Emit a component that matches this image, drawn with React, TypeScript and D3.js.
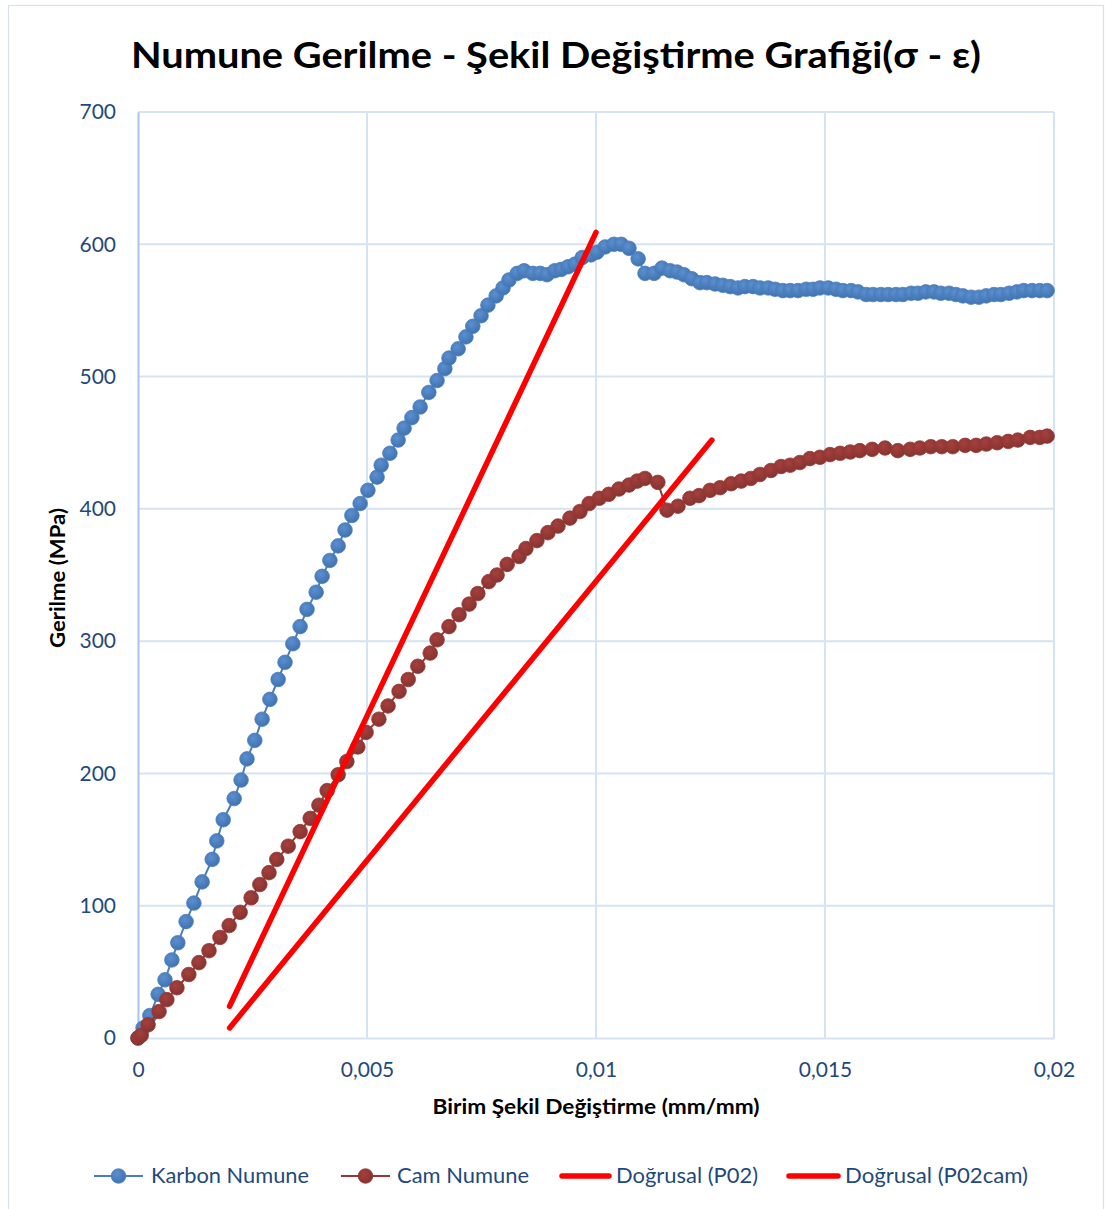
import React, { useEffect, useRef } from 'react';
import * as d3 from 'd3';

// Karbon Numune: [strain, stress]
const karbonStrain = [
  0, 0.00011, 0.00026, 0.00044, 0.00059, 0.00074, 0.00087, 0.00105, 0.00122, 0.0014, 0.00162, 0.00172,
  0.00186, 0.0021, 0.00225, 0.00238, 0.00255, 0.00271, 0.00288, 0.00306, 0.00321, 0.00338, 0.00354,
  0.00369, 0.00389, 0.00402, 0.00419, 0.00437, 0.00452, 0.00467, 0.00485, 0.00502, 0.00522, 0.00531,
  0.0055, 0.00568, 0.00581, 0.00598, 0.00616, 0.00635, 0.00653, 0.0067, 0.00679, 0.00699, 0.00716,
  0.00731, 0.00749, 0.00764, 0.00782, 0.00797, 0.0081, 0.00828, 0.00843, 0.00862, 0.00878, 0.00893,
  0.0091, 0.00924, 0.00939, 0.00954, 0.0097, 0.00989, 0.01002, 0.0102, 0.01039, 0.01055, 0.01072,
  0.01092, 0.01107, 0.01127, 0.01144, 0.01162, 0.01177, 0.01192, 0.01209, 0.01227, 0.01242, 0.0126,
  0.01277, 0.01293, 0.0131, 0.01325, 0.01343, 0.01358, 0.01376, 0.01391, 0.01408, 0.01424, 0.01441,
  0.01459, 0.01474, 0.01489, 0.01507, 0.01524, 0.01539, 0.01557, 0.01572, 0.0159, 0.01605, 0.01622,
  0.01638, 0.01655, 0.0167, 0.01688, 0.01703, 0.0172, 0.01738, 0.01753, 0.01771, 0.01786, 0.01801,
  0.01819, 0.01836, 0.01852, 0.01869, 0.01884, 0.01902, 0.01919, 0.01934, 0.01952, 0.01969, 0.01985
];
const karbonStress = [
  0, 7.6, 17, 33, 44, 59, 72, 88, 102, 118, 135, 149,
  165, 181, 195, 211, 225, 241, 256, 271, 284, 298, 311,
  324, 337, 349, 361, 372, 384, 395, 404, 414, 424, 433,
  442, 452, 461, 469, 477, 488, 497, 506, 514, 521, 530,
  538, 546, 554, 561, 567, 573, 578, 580, 578, 578, 577,
  580, 581, 583, 585, 590, 592, 594, 598, 600, 600, 597,
  589, 578, 578, 582, 580, 579, 577, 574, 571, 571, 570,
  569, 568, 567, 568, 568, 567, 567, 566, 565, 565, 565,
  566, 566, 567, 567, 566, 565, 565, 564, 562, 562, 562,
  562, 562, 562, 563, 563, 564, 564, 563, 563, 562, 561,
  560, 560, 561, 562, 562, 563, 564, 565, 565, 565, 565
];

// Cam Numune: [strain, stress]
const camStrain = [
  0, 0.00007, 0.00022, 0.00046, 0.00063, 0.00085, 0.00111, 0.00133, 0.00155, 0.00179, 0.00199,
  0.00223, 0.00247, 0.00266, 0.00286, 0.00303, 0.00328, 0.00354, 0.00376, 0.00395, 0.00413, 0.00437,
  0.00456, 0.0048, 0.00498, 0.00526, 0.00546, 0.0057, 0.0059, 0.00611, 0.00638, 0.00653, 0.00679,
  0.00701, 0.00723, 0.00742, 0.00766, 0.00784, 0.00806, 0.00832, 0.00847, 0.00871, 0.00895, 0.00917,
  0.00943, 0.00965, 0.00985, 0.01007, 0.01028, 0.0105, 0.01072, 0.0109, 0.01107, 0.01135, 0.01155,
  0.01179, 0.01205, 0.01225, 0.01249, 0.01271, 0.01295, 0.01317, 0.01338, 0.01358, 0.01382, 0.01404,
  0.01424, 0.01445, 0.01467, 0.01489, 0.01511, 0.01533, 0.01555, 0.01576, 0.01603, 0.01631, 0.01659,
  0.01686, 0.01707, 0.01731, 0.01755, 0.01779, 0.01806, 0.0183, 0.01852, 0.01876, 0.019, 0.01921,
  0.01948, 0.01969, 0.01985
];
const camStress = [
  0, 2, 10, 20, 29, 38, 48, 57, 66, 76, 85,
  95, 106, 116, 125, 135, 145, 156, 166, 176, 187, 199,
  209, 220, 231, 241, 251, 262, 271, 281, 291, 301, 311,
  320, 328, 336, 345, 350, 358, 364, 370, 376, 382, 387,
  393, 398, 404, 408, 411, 415, 418, 421, 423, 420, 399,
  402, 408, 410, 414, 416, 419, 421, 423, 426, 429, 432,
  433, 435, 438, 439, 441, 442, 443, 444, 445, 446, 444,
  445, 446, 447, 447, 447, 448, 448, 449, 450, 451, 452,
  454, 454, 455
];

// Doğrusal trend lines (endpoints)
const p02Strain = [0.002, 0.01];
const p02Stress = [24, 609];
const p02camStrain = [0.002, 0.01253];
const p02camStress = [7.6, 452];

const xTicks = [0, 0.005, 0.01, 0.015, 0.02];
const yTicks = [0, 100, 200, 300, 400, 500, 600, 700];
const legendLabels = ['Karbon Numune', 'Cam Numune', 'Doğrusal (P02)', 'Doğrusal (P02cam)'];

const zip = (xs: number[], ys: number[]) => xs.map((x, i) => ({ x, y: ys[i] }));

const App = () => {
  const ref = useRef<SVGSVGElement>(null);

  useEffect(() => {
    const svg = d3.select(ref.current);
    svg.selectAll('*').remove();

    const font = 'Lato, "Open Sans", sans-serif';
    const textBlue = '#1f497d';

    const x = d3.scaleLinear().domain([0, 0.02]).range([138, 1054]);
    const y = d3.scaleLinear().domain([0, 700]).range([1038, 112]);

    const defs = svg.append('defs');
    const grad = (id: string, light: string, dark: string) => {
      const g = defs.append('radialGradient').attr('id', id).attr('cx', '40%').attr('cy', '35%').attr('r', '65%');
      g.append('stop').attr('offset', '0%').attr('stop-color', light);
      g.append('stop').attr('offset', '100%').attr('stop-color', dark);
    };
    grad('gBlue', '#5b8fcf', '#3f72b0');
    grad('gRed', '#a5403d', '#863330');

    // chart border
    svg.append('rect').attr('x', 8.5).attr('y', 5.5).attr('width', 1095).attr('height', 1210)
      .attr('fill', 'white').attr('stroke', '#d9e1ea').attr('stroke-width', 1.2);

    // title
    svg.append('text').attr('x', 556).attr('y', 68).attr('text-anchor', 'middle')
      .attr('font-family', font).attr('font-weight', 700).attr('font-size', 37).attr('fill', '#000')
      .attr('textLength', 850).attr('lengthAdjust', 'spacingAndGlyphs')
      .text('Numune Gerilme - Şekil Değiştirme Grafiği(σ - ε)');

    // grid
    const grid = svg.append('g');
    grid.selectAll('line.h').data(yTicks.slice(1)).join('line')
      .attr('x1', x(0)).attr('x2', x(0.02)).attr('y1', (d) => y(d)).attr('y2', (d) => y(d))
      .attr('stroke', '#d6e3f3').attr('stroke-width', 2);
    grid.selectAll('line.v').data(xTicks.slice(1)).join('line')
      .attr('x1', (d) => x(d)).attr('x2', (d) => x(d)).attr('y1', y(0)).attr('y2', y(700))
      .attr('stroke', '#d6e3f3').attr('stroke-width', 2);

    // axes
    const xAxis = svg.append('g').attr('transform', `translate(0,${y(0)})`)
      .call(d3.axisBottom(x).tickValues(xTicks).tickSize(0).tickPadding(24)
        .tickFormat((d) => String(d).replace('.', ',')));
    xAxis.select('.domain').attr('stroke', '#d6e3f3').attr('stroke-width', 2);
    xAxis.selectAll('text').attr('font-family', font).attr('font-size', 21).attr('fill', textBlue);

    const yAxis = svg.append('g').attr('transform', `translate(${x(0)},0)`)
      .call(d3.axisLeft(y).tickValues(yTicks).tickSize(0).tickPadding(22));
    yAxis.select('.domain').attr('stroke', '#a9c4e6').attr('stroke-width', 2);
    yAxis.selectAll('text').attr('font-family', font).attr('font-size', 21).attr('fill', textBlue);

    // axis titles
    svg.append('text').attr('x', 596).attr('y', 1114).attr('text-anchor', 'middle')
      .attr('font-family', font).attr('font-weight', 700).attr('font-size', 20).attr('fill', '#000')
      .attr('textLength', 327).attr('lengthAdjust', 'spacingAndGlyphs')
      .text('Birim Şekil Değiştirme (mm/mm)');
    svg.append('text').attr('transform', 'translate(65,578) rotate(-90)').attr('text-anchor', 'middle')
      .attr('font-family', font).attr('font-weight', 700).attr('font-size', 20).attr('fill', '#000')
      .attr('textLength', 140).attr('lengthAdjust', 'spacingAndGlyphs')
      .text('Gerilme (MPa)');

    const line = d3.line<{ x: number; y: number }>().x((d) => x(d.x)).y((d) => y(d.y));

    const series = [
      { data: zip(karbonStrain, karbonStress), color: '#4a7ebb', fill: 'url(#gBlue)' },
      { data: zip(camStrain, camStress), color: '#953735', fill: 'url(#gRed)' }
    ];

    series.forEach((s) => {
      svg.append('path').datum(s.data).attr('fill', 'none').attr('stroke', s.color)
        .attr('stroke-width', 2).attr('d', line);
      svg.append('g').selectAll('circle').data(s.data).join('circle')
        .attr('cx', (d) => x(d.x)).attr('cy', (d) => y(d.y)).attr('r', 7.3)
        .attr('fill', s.fill).attr('stroke', s.color).attr('stroke-width', 0.8);
    });

    // trend lines
    [zip(p02Strain, p02Stress), zip(p02camStrain, p02camStress)].forEach((d) => {
      svg.append('path').datum(d).attr('fill', 'none').attr('stroke', '#ff0000')
        .attr('stroke-width', 5.5).attr('stroke-linecap', 'round').attr('d', line);
    });

    // legend
    const legendY = 1176;
    const legendItems = [
      { x0: 94, x1: 143, text: 151, len: 158, color: '#4a7ebb', fill: 'url(#gBlue)', marker: true },
      { x0: 341, x1: 390, text: 397, len: 132, color: '#953735', fill: 'url(#gRed)', marker: true },
      { x0: 562, x1: 609, text: 616, len: 142, color: '#ff0000', fill: '', marker: false },
      { x0: 789, x1: 838, text: 845, len: 183, color: '#ff0000', fill: '', marker: false }
    ];
    const legend = svg.append('g');
    legendItems.forEach((it, i) => {
      legend.append('line').attr('x1', it.x0).attr('x2', it.x1).attr('y1', legendY).attr('y2', legendY)
        .attr('stroke', it.color).attr('stroke-width', it.marker ? 2 : 5.5)
        .attr('stroke-linecap', it.marker ? 'butt' : 'round');
      if (it.marker) {
        legend.append('circle').attr('cx', (it.x0 + it.x1) / 2).attr('cy', legendY).attr('r', 7.3)
          .attr('fill', it.fill).attr('stroke', it.color).attr('stroke-width', 0.8);
      }
      legend.append('text').attr('x', it.text).attr('y', legendY).attr('dy', '0.35em')
        .attr('font-family', font).attr('font-size', 21).attr('fill', textBlue)
        .attr('textLength', it.len).attr('lengthAdjust', 'spacingAndGlyphs')
        .text(legendLabels[i]);
    });
  }, []);

  return (
    <svg ref={ref} width={1105} height={1209}
      style={{ position: 'absolute', left: 0, top: 0, background: 'white' }} />
  );
};

export default App;
